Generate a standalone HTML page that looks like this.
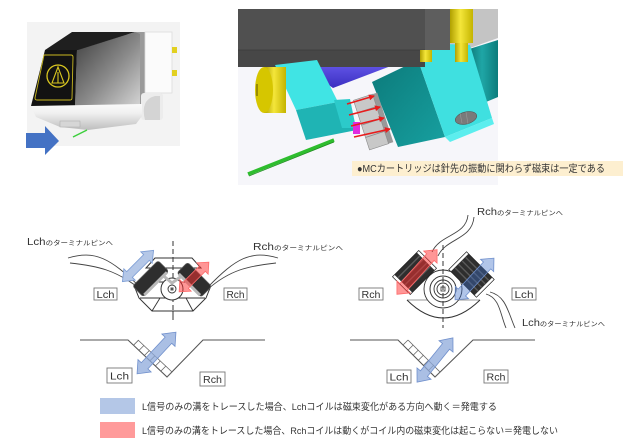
<!DOCTYPE html>
<html><head><meta charset="utf-8"><style>
html,body{margin:0;padding:0;background:#fff;}
svg{display:block;}
text{font-family:"Liberation Sans","Noto Sans CJK JP",sans-serif;fill:#333;}
</style></head><body>
<svg width="640" height="443" viewBox="0 0 640 443" xmlns="http://www.w3.org/2000/svg">
<defs>
<linearGradient id="gs" x1="0" y1="0" x2="1" y2="1"><stop offset="0" stop-color="#3c3c3c"/><stop offset="0.55" stop-color="#8a8a8a"/><stop offset="1" stop-color="#d4d4d4"/></linearGradient>
<linearGradient id="yc" x1="0" y1="0" x2="1" y2="0"><stop offset="0" stop-color="#b0a000"/><stop offset="0.45" stop-color="#f4e63a"/><stop offset="1" stop-color="#c4b400"/></linearGradient>
<linearGradient id="tc" x1="0" y1="0" x2="1" y2="0"><stop offset="0" stop-color="#0a6e6e"/><stop offset="0.5" stop-color="#1fa6a6"/><stop offset="1" stop-color="#0c7c7c"/></linearGradient>
<linearGradient id="tf" x1="0" y1="0" x2="1" y2="1"><stop offset="0" stop-color="#0c7a7a"/><stop offset="1" stop-color="#17a0a0"/></linearGradient>
<linearGradient id="pw" x1="0" y1="0" x2="0" y2="1"><stop offset="0" stop-color="#6d5ff2"/><stop offset="1" stop-color="#3a2fc0"/></linearGradient>
<linearGradient id="lb" x1="0" y1="0" x2="0" y2="1"><stop offset="0" stop-color="#fafafa"/><stop offset="0.35" stop-color="#f0f0f0"/><stop offset="1" stop-color="#bdbdbd"/></linearGradient>
<marker id="ra" markerWidth="6" markerHeight="6" refX="5" refY="3" orient="auto" markerUnits="userSpaceOnUse"><path d="M0,0 L6,3 L0,6 z" fill="#e81c1c"/></marker>
</defs>

<!-- ===== Top-left cartridge ===== -->
<rect x="27" y="22" width="153" height="124" fill="#f3f3f3"/>
<polygon points="135,32 145,32 145,104 140,105" fill="#9a9a9a"/>
<polygon points="77,50 135,32 140,34 140,105 75,106" fill="url(#gs)"/>
<polygon points="72,32 135,32 78,50 45,50" fill="#1f1f1f"/>
<polygon points="45,50 77,50 75,106 31,106" fill="#121212"/>
<path d="M44,55 L71,55 Q73,55 73,57 L72,98 Q72,100 70,100 L37,100 Q35,100 35,98 Z" fill="none" stroke="#c9b820" stroke-width="0.9"/>
<circle cx="58" cy="76" r="11" fill="none" stroke="#d8c620" stroke-width="1.3"/>
<path d="M58,67 L52,83 L64,83 Z M58,72 L58,83" fill="none" stroke="#d8c620" stroke-width="1.1"/>
<rect x="145" y="32" width="27" height="61" fill="#fbfbfb" stroke="#dcdcdc" stroke-width="0.8"/>
<rect x="172" y="47" width="5" height="6" fill="#e2d020"/>
<rect x="172" y="70" width="5" height="6" fill="#e2d020"/>
<rect x="141" y="93" width="22" height="27" rx="3" fill="#ececec"/>
<path d="M145,120 Q140,100 155,96 L160,96 L160,120 Z" fill="#d4d4d4"/>
<polygon points="31,106 142,104 142,116 136,124 88,130 60,127 36,117" fill="url(#lb)"/>
<rect x="60" y="121" width="20" height="6" fill="#d6d6d6" stroke="#aaa" stroke-width="0.5"/>
<line x1="73" y1="137" x2="87" y2="130" stroke="#3ecf3e" stroke-width="1.5"/>
<polygon points="26,133 45,133 45,126 59,141 45,155 45,148 26,148" fill="#4472c4"/>

<!-- ===== Top-middle 3D view ===== -->
<rect x="238" y="9" width="260" height="176" fill="#f6f6fa"/>
<polygon points="448,9 498,9 498,38 470,48 448,48" fill="#c4c4c4"/>
<polygon points="466,50 498,40 498,97 486,102" fill="url(#tc)"/>
<polygon points="302,66 412,58 333,88" fill="url(#pw)"/>
<polygon points="372,82 418,60 445,137 398,147" fill="url(#tf)"/>
<polygon points="418,60 419,43 470,45 492,118 445,137" fill="#3fe0e0"/>
<polygon points="445,137 492,118 494,124 450,142" fill="#5ceeee"/>
<ellipse cx="466" cy="118" rx="11" ry="6" transform="rotate(-15 466 118)" fill="#7a7a7a" stroke="#555" stroke-width="0.6"/>
<line x1="460" y1="113" x2="462" y2="123" stroke="#999" stroke-width="0.6"/>
<line x1="466" y1="112" x2="468" y2="124" stroke="#999" stroke-width="0.6"/>
<rect x="238" y="9" width="187" height="58" fill="#474747"/>
<rect x="238" y="9" width="187" height="41" fill="#505050"/>
<line x1="238" y1="50" x2="425" y2="50" stroke="#3a3a3a" stroke-width="0.8"/>
<rect x="425" y="9" width="25" height="41" fill="#5e5e5e"/>
<rect x="450" y="9" width="23" height="34" fill="url(#yc)"/>
<rect x="455" y="43" width="13" height="19" fill="url(#yc)"/>
<rect x="420" y="50" width="12" height="12" fill="url(#yc)"/>
<!-- left cyan block -->
<polygon points="275,65 317,60 338,102 296,110" fill="#40e4e4"/>
<polygon points="296,110 338,102 357,130 306,140" fill="#1fb4b4"/>
<polygon points="334,100 350,99 356,128 342,128" fill="#2ccaca"/>
<!-- yellow cylinder -->
<rect x="264" y="67" width="22" height="46" fill="url(#yc)"/>
<ellipse cx="264" cy="90" rx="9" ry="23" fill="#d6c600"/>
<line x1="257" y1="84" x2="257" y2="96" stroke="#9a8c00" stroke-width="2"/>
<!-- gray nuts -->
<g transform="translate(371,122) rotate(-18)">
<rect x="10" y="-26" width="5" height="52" fill="#999"/>
<rect x="-10" y="-26" width="20" height="52" fill="#c8c8c8" stroke="#8a8a8a" stroke-width="0.6"/>
<line x1="-10" y1="-13" x2="10" y2="-13" stroke="#8a8a8a" stroke-width="0.8"/>
<line x1="-10" y1="0" x2="10" y2="0" stroke="#8a8a8a" stroke-width="0.8"/>
<line x1="-10" y1="13" x2="10" y2="13" stroke="#8a8a8a" stroke-width="0.8"/>
</g>
<rect x="353" y="122" width="7" height="12" fill="#e02be0"/>
<line x1="347" y1="104" x2="374" y2="96" stroke="#e81c1c" stroke-width="1.6" marker-end="url(#ra)"/>
<line x1="349" y1="115" x2="380" y2="107" stroke="#e81c1c" stroke-width="1.6" marker-end="url(#ra)"/>
<line x1="351" y1="126" x2="384" y2="118" stroke="#e81c1c" stroke-width="1.6" marker-end="url(#ra)"/>
<line x1="354" y1="137" x2="390" y2="129" stroke="#e81c1c" stroke-width="1.6" marker-end="url(#ra)"/>
<line x1="248" y1="174" x2="334" y2="140" stroke="#2ebd2e" stroke-width="3.5"/>
<line x1="249" y1="176" x2="334" y2="142" stroke="#1a8a1a" stroke-width="0.8"/>
<rect x="352" y="161" width="271" height="15" fill="#fdefd0"/>
<text x="357" y="172" font-size="10" textLength="248" lengthAdjust="spacingAndGlyphs">●MCカートリッジは針先の振動に関わらず磁束は一定である</text>

<!-- ===== Bottom-left diagram ===== -->
<text x="27" y="245" textLength="86" lengthAdjust="spacingAndGlyphs"><tspan font-size="10">Lch</tspan><tspan font-size="6.5">のターミナルピンへ</tspan></text>
<text x="253" y="250" textLength="90" lengthAdjust="spacingAndGlyphs"><tspan font-size="10">Rch</tspan><tspan font-size="6.5">のターミナルピンへ</tspan></text>
<g fill="none" stroke="#444" stroke-width="0.9">
<path d="M68,258 C95,250 110,258 140,287"/>
<path d="M70,263 C98,266 116,270 140,289"/>
<path d="M278,258 C251,250 236,258 208,287"/>
<path d="M276,263 C248,266 230,270 208,289"/>
</g>
<g fill="#fff" stroke="#333" stroke-width="1">
<polygon points="146,268 155,258 192,258 201,268"/>
<polygon points="135,288 139,298 152,311 193,311 206,298 210,288 195,282 150,282"/>
</g>
<g fill="none" stroke="#333" stroke-width="0.9">
<line x1="140" y1="298" x2="205" y2="298"/>
<line x1="152" y1="311" x2="160" y2="298"/>
<line x1="193" y1="311" x2="186" y2="298"/>
</g>
<line x1="173" y1="241" x2="173" y2="320" stroke="#333" stroke-width="1" stroke-dasharray="5,3"/>
<circle cx="172" cy="289" r="11" fill="#fff" stroke="#333" stroke-width="1"/>
<circle cx="172" cy="289" r="4" fill="#fff" stroke="#333" stroke-width="0.9"/>
<rect x="170.5" y="287.5" width="3" height="3" fill="#555"/>
<polyline points="160,273 172,283 186,273" fill="none" stroke="#b8b8b8" stroke-width="3"/>
<g transform="translate(151,279) rotate(-45)">
<rect x="-18" y="-8" width="36" height="15" rx="2.5" fill="#2e2e2e" stroke="#555" stroke-width="0.8"/>
<rect x="-16" y="5" width="32" height="3" fill="#b8b8b8"/>
</g>
<g transform="translate(194,280) rotate(45)">
<rect x="-17" y="-8" width="34" height="15" rx="2.5" fill="#2e2e2e" stroke="#555" stroke-width="0.8"/>
<rect x="-15" y="5" width="30" height="3" fill="#b8b8b8"/>
</g>
<g transform="translate(138,266) rotate(-45)">
<polygon points="-22,0 -12,-8 -12,-4 12,-4 12,-8 22,0 12,8 12,4 -12,4 -12,8" fill="#b4c7e7" stroke="#7f9fd6" stroke-width="0.9"/>
</g>
<g transform="translate(194,277) rotate(-45)">
<polygon points="-21,0 -12,-8 -12,-4 12,-4 12,-8 21,0 12,8 12,4 -12,4 -12,8" fill="#ff2e2e" fill-opacity="0.5" stroke="#ff6a6a" stroke-width="0.8"/>
</g>
<rect x="94" y="288" width="23" height="12" fill="#fff" stroke="#777" stroke-width="0.9"/>
<text x="96.5" y="298" font-size="10" fill="#555" textLength="18" lengthAdjust="spacingAndGlyphs">Lch</text>
<rect x="224" y="288" width="23" height="12" fill="#fff" stroke="#777" stroke-width="0.9"/>
<text x="226.5" y="298" font-size="10" fill="#555" textLength="18" lengthAdjust="spacingAndGlyphs">Rch</text>

<!-- left groove -->
<polyline points="80,340 128,340 167,377 203,340 265,340" fill="none" stroke="#555" stroke-width="1.1"/>
<g fill="none" stroke="#666" stroke-width="0.8">
<polyline points="138,340 172,372 167,377"/>
<line x1="133.5" y1="345.2" x2="138.5" y2="340.2"/>
<line x1="139" y1="350.4" x2="144" y2="345.4"/>
<line x1="144.4" y1="355.5" x2="149.4" y2="350.5"/>
<line x1="150" y1="360.7" x2="155" y2="355.7"/>
<line x1="155.3" y1="366" x2="160.3" y2="361"/>
<line x1="160.8" y1="371.1" x2="165.8" y2="366.1"/>
</g>
<g transform="translate(156.5,353) rotate(-47)">
<polygon points="-28.5,0 -17.5,-9 -17.5,-4.5 17.5,-4.5 17.5,-9 28.5,0 17.5,9 17.5,4.5 -17.5,4.5 -17.5,9" fill="#8eaadb" fill-opacity="0.75" stroke="#6f8fcc" stroke-width="0.8"/>
</g>
<line x1="173" y1="311" x2="173" y2="320" stroke="#333" stroke-width="1"/>
<rect x="107" y="368" width="25" height="15" fill="#fff" stroke="#777" stroke-width="0.9"/>
<text x="110" y="379.5" font-size="10" fill="#555" textLength="19" lengthAdjust="spacingAndGlyphs">Lch</text>
<rect x="200" y="372" width="25" height="14" fill="#fff" stroke="#777" stroke-width="0.9"/>
<text x="203" y="383" font-size="10" fill="#555" textLength="19" lengthAdjust="spacingAndGlyphs">Rch</text>

<!-- ===== Bottom-right diagram ===== -->
<text x="477" y="215" textLength="86" lengthAdjust="spacingAndGlyphs"><tspan font-size="10">Rch</tspan><tspan font-size="6.5">のターミナルピンへ</tspan></text>
<text x="522" y="326" textLength="83" lengthAdjust="spacingAndGlyphs"><tspan font-size="10">Lch</tspan><tspan font-size="6.5">のターミナルピンへ</tspan></text>
<g fill="none" stroke="#444" stroke-width="0.9">
<path d="M468,215 C466,236 440,234 432,252"/>
<path d="M474,217 C472,240 446,238 438,256"/>
<path d="M486,294 C500,298 500,314 506,328"/>
<path d="M490,292 C506,296 508,312 515,328"/>
</g>
<path d="M407,300 Q443,336 480,300" fill="#fff" stroke="#333" stroke-width="1"/>
<line x1="407" y1="300" x2="480" y2="300" stroke="#333" stroke-width="0.6"/>
<circle cx="443" cy="289" r="19" fill="#fff" stroke="#333" stroke-width="0.9"/>
<g transform="translate(414.5,272.5) rotate(-45)">
<rect x="-18.5" y="-12.5" width="37" height="25" fill="#2e2e2e" stroke="#222" stroke-width="0.8"/>
<g stroke="#5a5a5a" stroke-width="1.4"><line x1="-16" y1="-8" x2="16" y2="-8"/><line x1="-16" y1="-3" x2="16" y2="-3"/><line x1="-16" y1="2" x2="16" y2="2"/><line x1="-16" y1="7" x2="16" y2="7"/></g>
<rect x="-18.5" y="-12.5" width="3" height="25" fill="#fff" stroke="#333" stroke-width="0.6"/>
<rect x="15.5" y="-12.5" width="3" height="25" fill="#fff" stroke="#333" stroke-width="0.6"/>
</g>
<g transform="translate(471.5,274.5) rotate(45)">
<rect x="-19.5" y="-12.5" width="39" height="25" fill="#2e2e2e" stroke="#222" stroke-width="0.8"/>
<g stroke="#5a5a5a" stroke-width="1.4"><line x1="-17" y1="-8" x2="17" y2="-8"/><line x1="-17" y1="-3" x2="17" y2="-3"/><line x1="-17" y1="2" x2="17" y2="2"/><line x1="-17" y1="7" x2="17" y2="7"/></g>
<rect x="-19.5" y="-12.5" width="3" height="25" fill="#fff" stroke="#333" stroke-width="0.6"/>
<rect x="16.5" y="-12.5" width="3" height="25" fill="#fff" stroke="#333" stroke-width="0.6"/>
</g>
<circle cx="443" cy="289" r="13" fill="#fff" stroke="#333" stroke-width="1"/>
<circle cx="443" cy="289" r="9" fill="none" stroke="#333" stroke-width="0.9"/>
<circle cx="443" cy="289" r="6" fill="none" stroke="#333" stroke-width="0.9"/>
<rect x="441" y="287" width="4" height="4" fill="#fff" stroke="#333" stroke-width="0.8"/>
<line x1="443" y1="245" x2="443" y2="328" stroke="#333" stroke-width="1" stroke-dasharray="5,3"/>
<g transform="translate(417,272) rotate(-48)">
<polygon points="-30,0 -20,-9 -20,-5 20,-5 20,-9 30,0 20,9 20,5 -20,5 -20,9" fill="#ff2e2e" fill-opacity="0.5" stroke="#ff6a6a" stroke-width="0.8"/>
</g>
<g transform="translate(474.5,279) rotate(-47)">
<polygon points="-28.5,0 -18.5,-9 -18.5,-5 18.5,-5 18.5,-9 28.5,0 18.5,9 18.5,5 -18.5,5 -18.5,9" fill="#3c6ec8" fill-opacity="0.4" stroke="#6f8fcc" stroke-width="0.8"/>
</g>
<rect x="359" y="288" width="24" height="12" fill="#fff" stroke="#777" stroke-width="0.9"/>
<text x="361.5" y="298" font-size="10" fill="#555" textLength="19" lengthAdjust="spacingAndGlyphs">Rch</text>
<rect x="512" y="288" width="24" height="12" fill="#fff" stroke="#777" stroke-width="0.9"/>
<text x="514.5" y="298" font-size="10" fill="#555" textLength="19" lengthAdjust="spacingAndGlyphs">Lch</text>

<!-- right groove -->
<polyline points="350,340 398,340 435,377 473,340 535,340" fill="none" stroke="#555" stroke-width="1.1"/>
<g fill="none" stroke="#666" stroke-width="0.8">
<polyline points="408,340 440,372 435,377"/>
<line x1="403" y1="345" x2="408" y2="340"/>
<line x1="408.2" y1="350" x2="413.2" y2="345"/>
<line x1="413.4" y1="355" x2="418.4" y2="350"/>
<line x1="418.6" y1="360" x2="423.6" y2="355"/>
<line x1="423.8" y1="365" x2="428.8" y2="360"/>
<line x1="429" y1="370" x2="434" y2="365"/>
</g>
<g transform="translate(435,360) rotate(-51)">
<polygon points="-28.5,0 -17.5,-9 -17.5,-4.5 17.5,-4.5 17.5,-9 28.5,0 17.5,9 17.5,4.5 -17.5,4.5 -17.5,9" fill="#8eaadb" fill-opacity="0.75" stroke="#6f8fcc" stroke-width="0.8"/>
</g>
<rect x="387" y="370" width="24" height="13" fill="#fff" stroke="#777" stroke-width="0.9"/>
<text x="389.5" y="380.5" font-size="10" fill="#555" textLength="19" lengthAdjust="spacingAndGlyphs">Lch</text>
<rect x="484" y="370" width="24" height="13" fill="#fff" stroke="#777" stroke-width="0.9"/>
<text x="486.5" y="380.5" font-size="10" fill="#555" textLength="19" lengthAdjust="spacingAndGlyphs">Rch</text>

<!-- ===== Legend ===== -->
<rect x="100" y="398" width="35" height="16" fill="#b4c7e7"/>
<rect x="100" y="422" width="35" height="16" fill="#ff9a9a"/>
<text x="142" y="410" font-size="9.5" textLength="355" lengthAdjust="spacingAndGlyphs">L信号のみの溝をトレースした場合、Lchコイルは磁束変化がある方向へ動く＝発電する</text>
<text x="142" y="434" font-size="9.5" textLength="416" lengthAdjust="spacingAndGlyphs">L信号のみの溝をトレースした場合、Rchコイルは動くがコイル内の磁束変化は起こらない＝発電しない</text>
</svg>
</body></html>
